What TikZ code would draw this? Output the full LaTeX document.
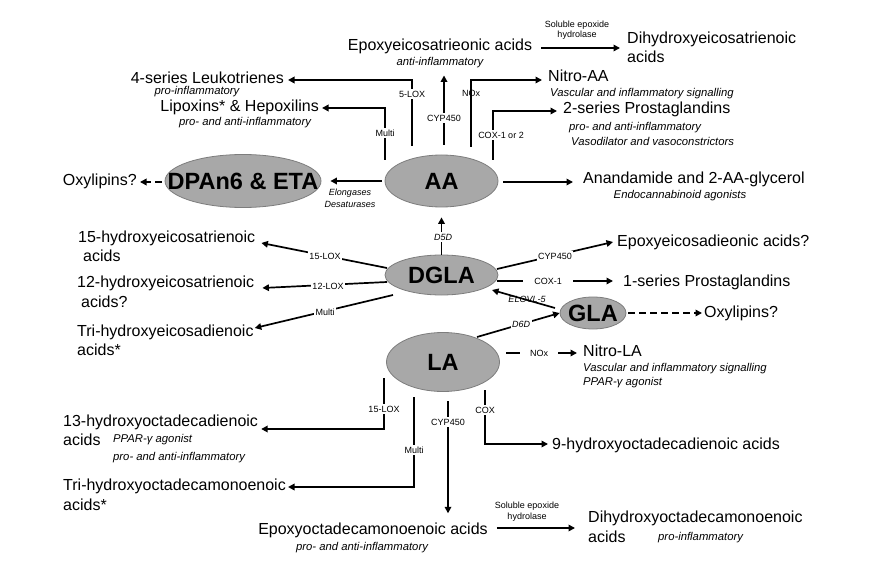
\documentclass[tikz,border=0pt]{standalone}
\usepackage{fontspec}
\setmainfont{Liberation Sans}
\usetikzlibrary{shapes.geometric,arrows.meta,calc}
\definecolor{ellfill}{RGB}{168,168,168}
\definecolor{elldraw}{RGB}{125,125,125}
\begin{document}
\begin{tikzpicture}[x=1pt,y=-1pt,
 txt/.style={font=\fontsize{16}{19}\selectfont, inner sep=0pt, text height=11.5pt, text depth=3.5pt},
 sub/.style={font=\fontsize{11.3}{13}\selectfont\itshape, inner sep=0pt, text height=8pt, text depth=2.5pt},
 lbl/.style={font=\fontsize{9}{10}\selectfont, inner sep=1.5pt, fill=white},
 ilbl/.style={lbl, font=\fontsize{9}{10}\selectfont\itshape},
 arr/.style={line width=1.7pt, -{Triangle[length=6.5pt,width=6.5pt]}},
 dsh/.style={arr, dash pattern=on 7pt off 4pt},
 ell/.style={ellipse, fill=ellfill, draw=elldraw, line width=0.8pt, inner sep=0pt},
 big/.style={font=\fontsize{23.5}{26}\selectfont\bfseries, inner sep=0pt}
]
\fill[white] (0,0) rectangle (877,561);
\useasboundingbox (0,0) rectangle (877,561);

% ---------- ellipses ----------
\node[ell, minimum width=156pt, minimum height=53pt, label={[big]center:DPAn6 \& ETA}] (dpa) at (243,181) {};
\node[ell, minimum width=113pt, minimum height=52pt, label={[big]center:AA}] (aa) at (441.5,181) {};
\node[ell, minimum width=113pt, minimum height=40pt, label={[big]center:DGLA}] (dgla) at (441.5,275) {};
\node[ell, minimum width=113pt, minimum height=59pt, label={[big]center:LA}] (la) at (443,362) {};
\node[ell, minimum width=66pt, minimum height=32pt, label={[big]center:GLA}] (gla) at (593,313) {};

% ---------- top texts ----------
\node[txt] (ep1) at (440,47) {Epoxyeicosatrieonic acids};
\node[sub] (ep1s) at (440,63) {anti-inflammatory};
\node[txt, anchor=west] (dh1) at (627,40) {Dihydroxyeicosatrienoic};
\node[txt, anchor=west] (dh1b) at (627,59) {acids};
\node[lbl, fill=none] (seh1) at (577,25) {Soluble epoxide};
\node[lbl, fill=none] (seh1b) at (577,35) {hydrolase};

\node[txt, anchor=east] (lt) at (284,80) {4-series Leukotrienes};
\node[sub] (lts) at (197,92) {pro-inflammatory};
\node[txt, anchor=east] (lh) at (319,108) {Lipoxins* \& Hepoxilins};
\node[sub] (lhs) at (245,123) {pro- and anti-inflammatory};

\node[txt, anchor=west] (nAA) at (548,78) {Nitro-AA};
\node[sub, anchor=west] (nAAs) at (550,94) {Vascular and inflammatory signalling};
\node[txt, anchor=west] (p2) at (563,110) {2-series Prostaglandins};
\node[sub, anchor=west] (p2s) at (569,128) {pro- and anti-inflammatory};
\node[sub, anchor=west] (p2t) at (571,143) {Vasodilator and vasoconstrictors};
\node[txt, anchor=west] (an) at (583,180) {Anandamide and 2-AA-glycerol};
\node[sub] (ans) at (680,196) {Endocannabinoid agonists};
\node[txt, anchor=east] (ox1) at (137,182) {Oxylipins?};
\node[ilbl, fill=none] (elo) at (350,193) {Elongases};
\node[ilbl, fill=none] (des) at (350,204) {Desaturases};

% ---------- middle texts ----------
\node[txt, anchor=west] (h15) at (78,238) {15-hydroxyeicosatrienoic};
\node[txt, anchor=west] (h15b) at (83,257) {acids};
\node[txt, anchor=west] (h12) at (77,283) {12-hydroxyeicosatrienoic};
\node[txt, anchor=west] (h12b) at (81,303) {acids?};
\node[txt, anchor=west] (th) at (77,332) {Tri-hydroxyeicosadienoic};
\node[txt, anchor=west] (thb) at (77,351) {acids*};
\node[txt, anchor=west] (eda) at (617,243) {Epoxyeicosadieonic acids?};
\node[txt, anchor=west] (p1) at (623,282) {1-series Prostaglandins};
\node[txt, anchor=west] (ox2) at (704,313) {Oxylipins?};
\node[txt, anchor=west] (nLA) at (583,352) {Nitro-LA};
\node[sub, anchor=west] (nLAs) at (583,369) {Vascular and inflammatory signalling};
\node[sub, anchor=west] (nLAt) at (583,383) {PPAR-γ agonist};

% ---------- bottom texts ----------
\node[txt, anchor=west] (h13) at (63,422) {13-hydroxyoctadecadienoic};
\node[txt, anchor=west] (h13b) at (63,441) {acids};
\node[sub, anchor=west] (h13s) at (113,440) {PPAR-γ agonist};
\node[sub, anchor=west] (h13t) at (113,458) {pro- and anti-inflammatory};
\node[txt, anchor=west] (tm) at (63,486) {Tri-hydroxyoctadecamonoenoic};
\node[txt, anchor=west] (tmb) at (63,506) {acids*};
\node[txt, anchor=west] (n9) at (552,445) {9-hydroxyoctadecadienoic acids};
\node[txt] (epo) at (373,530) {Epoxyoctadecamonoenoic acids};
\node[sub] (epos) at (362,548) {pro- and anti-inflammatory};
\node[txt, anchor=west] (dho) at (588,518) {Dihydroxyoctadecamonoenoic};
\node[txt, anchor=west] (dhob) at (588,538) {acids};
\node[sub, anchor=west] (dhos) at (658,538) {pro-inflammatory};
\node[lbl, fill=none] (seh2) at (527,506) {Soluble epoxide};
\node[lbl, fill=none] (seh2b) at (527,517) {hydrolase};

% ---------- connector start points ----------
\coordinate (c5) at (412,146);
\coordinate (cm) at (385,160);
\coordinate (ccyp) at (444,145);
\coordinate (cnox) at (471,147);
\coordinate (ccox) at (493,160);
\coordinate (cdc) at (497,269);
\coordinate (cc1) at (497,281);
\coordinate (cel) at (555,308);
\coordinate (cd6) at (477,337);
\coordinate (cnl) at (506,353);
\coordinate (c15) at (387,268);
\coordinate (c12) at (387,282);
\coordinate (cmu) at (393,295);
\coordinate (l15) at (384,378);
\coordinate (lmu) at (414,397);
\coordinate (lcy) at (448,401);
\coordinate (lcx) at (485,390);

% ---------- connectors ----------
\draw[arr] ($(ep1.east)+(9,1)$) -- ($(dh1.west |- ep1.east)+(-7,1)$);
\draw[arr] (c5) |- ($(lt.east)+(4,0)$);
\draw[arr] (cm) |- ($(lh.east)+(3,0)$);
\draw[arr] (ccyp) -- ($(ccyp |- ep1s.south)+(0,7)$);
\draw[arr] (cnox) |- ($(nAA.west)+(-6,2)$);
\draw[arr] (ccox) |- ($(p2.west)+(-6,1)$);
\draw[arr] ($(aa.east)+(5,1)$) -- ($(an.west)+(-10,2)$);
\draw[arr] ($(aa.west)+(-3,0)$) -- ($(dpa.east)+(9,0)$);
\draw[dsh] ($(dpa.west)+(-3,1)$) -- ($(ox1.east)+(3,0)$);
\draw[arr] (dgla.north) -- ($(aa.south)+(0,10)$);
\draw[arr] (cdc) -- ($(eda.west)+(-4,-1)$);
\draw[arr] (cc1) -- ($(p1.west)+(-10,-1)$);
\draw[arr] (cel) -- (492,290);
\draw[arr] (cd6) -- (gla.west);
\draw[dsh] ($(gla.east)+(2,0)$) -- ($(ox2.west)+(-2,0)$);
\draw[arr] (cnl) -- ($(nLA.west)+(-6,1)$);
\draw[arr] (c15) -- ($(h15.east)+(6,5)$);
\draw[arr] (c12) -- ($(h12.east)+(8,5)$);
\draw[arr] (cmu) -- ($(th.east)+(1,-4)$);
\draw[arr] (l15) |- ($(h13.east)+(3,7)$);
\draw[arr] (lmu) |- ($(tm.east)+(2,1)$);
\draw[arr] (lcy) -- ($(lcy |- epo.north)+(0,-9)$);
\draw[arr] (lcx) |- ($(n9.west)+(-4,-1)$);
\draw[arr] ($(epo.east)+(9,-2)$) -- ($(dho.west |- epo.east)+(-13,-2)$);

% ---------- connector labels ----------
\node[lbl] at (412,94) {5-LOX};
\node[lbl] at (385,133) {Multi};
\node[lbl] at (444,118) {CYP450};
\node[lbl, fill=none] at (471,93) {NOx};
\node[lbl] at (501,135) {COX-1 or 2};
\node[ilbl] at (443,237) {D5D};
\node[lbl] at (555,256) {CYP450};
\node[lbl, inner xsep=11pt] at (548,281) {COX-1};
\node[ilbl, fill=none] at (527,299) {ELOVL-5};
\node[ilbl] at (521,324) {D6D};
\node[lbl, inner xsep=10pt] at (539,353) {NOx};
\node[lbl] at (325,256) {15-LOX};
\node[lbl, inner sep=1pt] at (328,286) {12-LOX};
\node[lbl] at (325,312) {Multi};
\node[lbl] at (384,409) {15-LOX};
\node[lbl] at (414,450) {Multi};
\node[lbl] at (448,422) {CYP450};
\node[lbl] at (485,410) {COX};
\end{tikzpicture}
\end{document}
